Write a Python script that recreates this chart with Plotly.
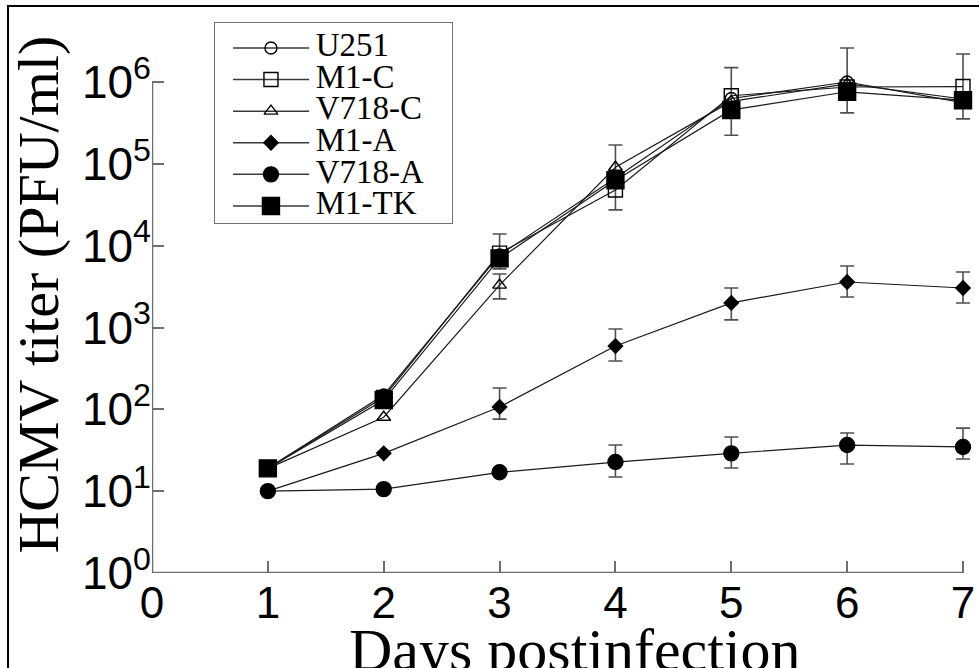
import plotly.graph_objects as go

# ---------------- data ----------------
days = [1, 2, 3, 4, 5, 6, 7]
series_names = ["U251", "M1-C", "V718-C", "M1-A", "V718-A", "M1-TK"]

u251 = [19, 150, 7700, 67000, 630000, 1000000, 560000]
m1_c = [19, 140, 8100, 48000, 680000, 870000, 880000]
v718_c = [19, 80, 3300, 91000, 580000, 950000, 620000]
m1_a = [10, 29, 107, 594, 2000, 3600, 3040]
v718_a = [10, 10.6, 17, 22.7, 29, 36.6, 34.7]
m1_tk = [19, 130, 7000, 63000, 456000, 760000, 600000]

# error-bar bounds (upper / lower), None = no bar drawn
v718_c_hi = [None, None, 4500, None, None, None, None]
v718_c_lo = [None, None, 2240, None, None, None, None]
m1_a_hi = [None, None, 182, 958, 3040, 5650, 4760]
m1_a_lo = [None, None, 76, 390, 1240, 2360, 1990]
v718_a_hi = [None, None, None, 36.7, 45.9, 51.4, 59]
v718_a_lo = [None, None, None, 14.9, 19.2, 21.5, 24.7]
m1_tk_hi = [None, None, 13900, 170000, 1500000, 2600000, 2200000]
m1_tk_lo = [None, None, 5200, 27400, 224000, 420000, 355000]

x_ticks = [0, 1, 2, 3, 4, 5, 6, 7]
y_ticks = [1, 10, 100, 1000, 10000, 100000, 1000000]
y_tick_labels = ["10<sup>%d</sup>" % i for i in range(7)]

# ---------------- styles ----------------
LINE = "#1a1a1a"
AXIS = "#6e6e6e"
SERIF = "Liberation Serif"
SANS = "Liberation Sans"

styles = {
    "U251": dict(symbol="circle-open", size=12),
    "M1-C": dict(symbol="square-open", size=14),
    "V718-C": dict(symbol="triangle-up-open", size=12),
    "M1-A": dict(symbol="diamond", size=11),
    "V718-A": dict(symbol="circle", size=15),
    "M1-TK": dict(symbol="square", size=17),
}
values = {"U251": u251, "M1-C": m1_c, "V718-C": v718_c,
          "M1-A": m1_a, "V718-A": v718_a, "M1-TK": m1_tk}
errors = {"V718-C": (v718_c_hi, v718_c_lo), "M1-A": (m1_a_hi, m1_a_lo),
          "V718-A": (v718_a_hi, v718_a_lo), "M1-TK": (m1_tk_hi, m1_tk_lo)}

fig = go.Figure()

# error bars (separate invisible traces so only listed points get bars)
for name, (hi, lo) in errors.items():
    ys = values[name]
    pts = [(d, v, h, l) for d, v, h, l in zip(days, ys, hi, lo) if h is not None]
    fig.add_trace(go.Scatter(
        x=[p[0] for p in pts], y=[p[1] for p in pts], mode="markers",
        marker=dict(size=1, opacity=0), showlegend=False, cliponaxis=False,
        hoverinfo="skip",
        error_y=dict(type="data", symmetric=False,
                     array=[p[2] - p[1] for p in pts],
                     arrayminus=[p[1] - p[3] for p in pts],
                     color="#505050", thickness=1.6, width=7)))

# data series
for name in series_names:
    st = styles[name]
    fig.add_trace(go.Scatter(
        x=days, y=values[name], mode="lines+markers", name=name,
        showlegend=False, cliponaxis=False,
        line=dict(color=LINE, width=1.2),
        marker=dict(symbol=st["symbol"], size=st["size"], color="black",
                    line=dict(color="black", width=1.4))))

# ---------------- hand-made legend on its own small axes ----------------
SAMPLE_X = [0.076, 0.397]
MARK_X = 0.236
TEXT_X = 0.425
for name in series_names:
    st = styles[name]
    fig.add_trace(go.Scatter(x=SAMPLE_X, y=[name, name], mode="lines",
                             xaxis="x2", yaxis="y2", showlegend=False,
                             line=dict(color="#3a3a3a", width=1.5), hoverinfo="skip"))
    fig.add_trace(go.Scatter(x=[MARK_X], y=[name], mode="markers",
                             xaxis="x2", yaxis="y2", showlegend=False,
                             marker=dict(symbol=st["symbol"], size=st["size"],
                                         color="black", line=dict(color="black", width=1.4)),
                             hoverinfo="skip"))
fig.add_trace(go.Scatter(x=[TEXT_X] * len(series_names), y=series_names,
                         mode="text", text=series_names, textposition="middle right",
                         textfont=dict(family=SERIF, size=33, color="black"),
                         xaxis="x2", yaxis="y2", showlegend=False, hoverinfo="skip",
                         cliponaxis=False))

# ---------------- layout ----------------
fig.update_layout(
    width=979, height=668,
    margin=dict(l=152, r=0, t=20, b=95),
    paper_bgcolor="white", plot_bgcolor="white",
    showlegend=False,
    xaxis=dict(range=[0, 7.138], tickmode="array", tickvals=x_ticks,
               ticks="inside", ticklen=12, tickwidth=2, tickcolor=AXIS,
               showline=False, showgrid=False, zeroline=False,
               tickfont=dict(family=SANS, size=44, color="black")),
    yaxis=dict(type="log", range=[0, 6.758], tickmode="array",
               tickvals=y_ticks, ticktext=y_tick_labels,
               ticks="inside", ticklen=12, tickwidth=2, tickcolor=AXIS,
               showline=False, showgrid=False, zeroline=False,
               tickfont=dict(family=SANS, size=46, color="black")),
    xaxis2=dict(domain=[0.0762, 0.3628], range=[0, 1], visible=False,
                anchor="y2"),
    yaxis2=dict(domain=[0.6329, 0.9946], type="category",
                categoryarray=series_names[::-1], range=[-0.54, 5.79],
                visible=False, anchor="x2"),
    shapes=[
        # axis lines
        dict(type="line", xref="x", yref="y", x0=x_ticks[0], x1=x_ticks[-1],
             y0=y_ticks[0], y1=y_ticks[0], line=dict(color=AXIS, width=2.5)),
        dict(type="line", xref="x", yref="y", x0=x_ticks[0], x1=x_ticks[0],
             y0=y_ticks[0], y1=y_ticks[-1], line=dict(color=AXIS, width=2.5)),
        # legend box
        dict(type="rect", xref="x2 domain", yref="y2 domain", x0=0, x1=1, y0=0, y1=1,
             line=dict(color="#707070", width=2), layer="below"),
        # outer frame
        dict(type="rect", xref="paper", yref="paper", x0=-0.1741, x1=1.01,
             y0=-0.19, y1=1.0253, line=dict(color="black", width=2)),
    ],
    annotations=[
        dict(text="Days postinfection", xref="paper", yref="paper",
             x=0.511, y=-0.076, xanchor="center", yanchor="top",
             showarrow=False, font=dict(family=SERIF, size=60, color="black")),
        dict(text="HCMV titer (PFU/ml)", xref="paper", yref="paper",
             x=-0.137, y=0.503, xanchor="center", yanchor="middle", textangle=-90,
             showarrow=False, font=dict(family=SERIF, size=58, color="black")),
    ],
)

fig.write_html("out.html", config={"displayModeBar": False},
               post_script="document.body.style.margin='0';")
